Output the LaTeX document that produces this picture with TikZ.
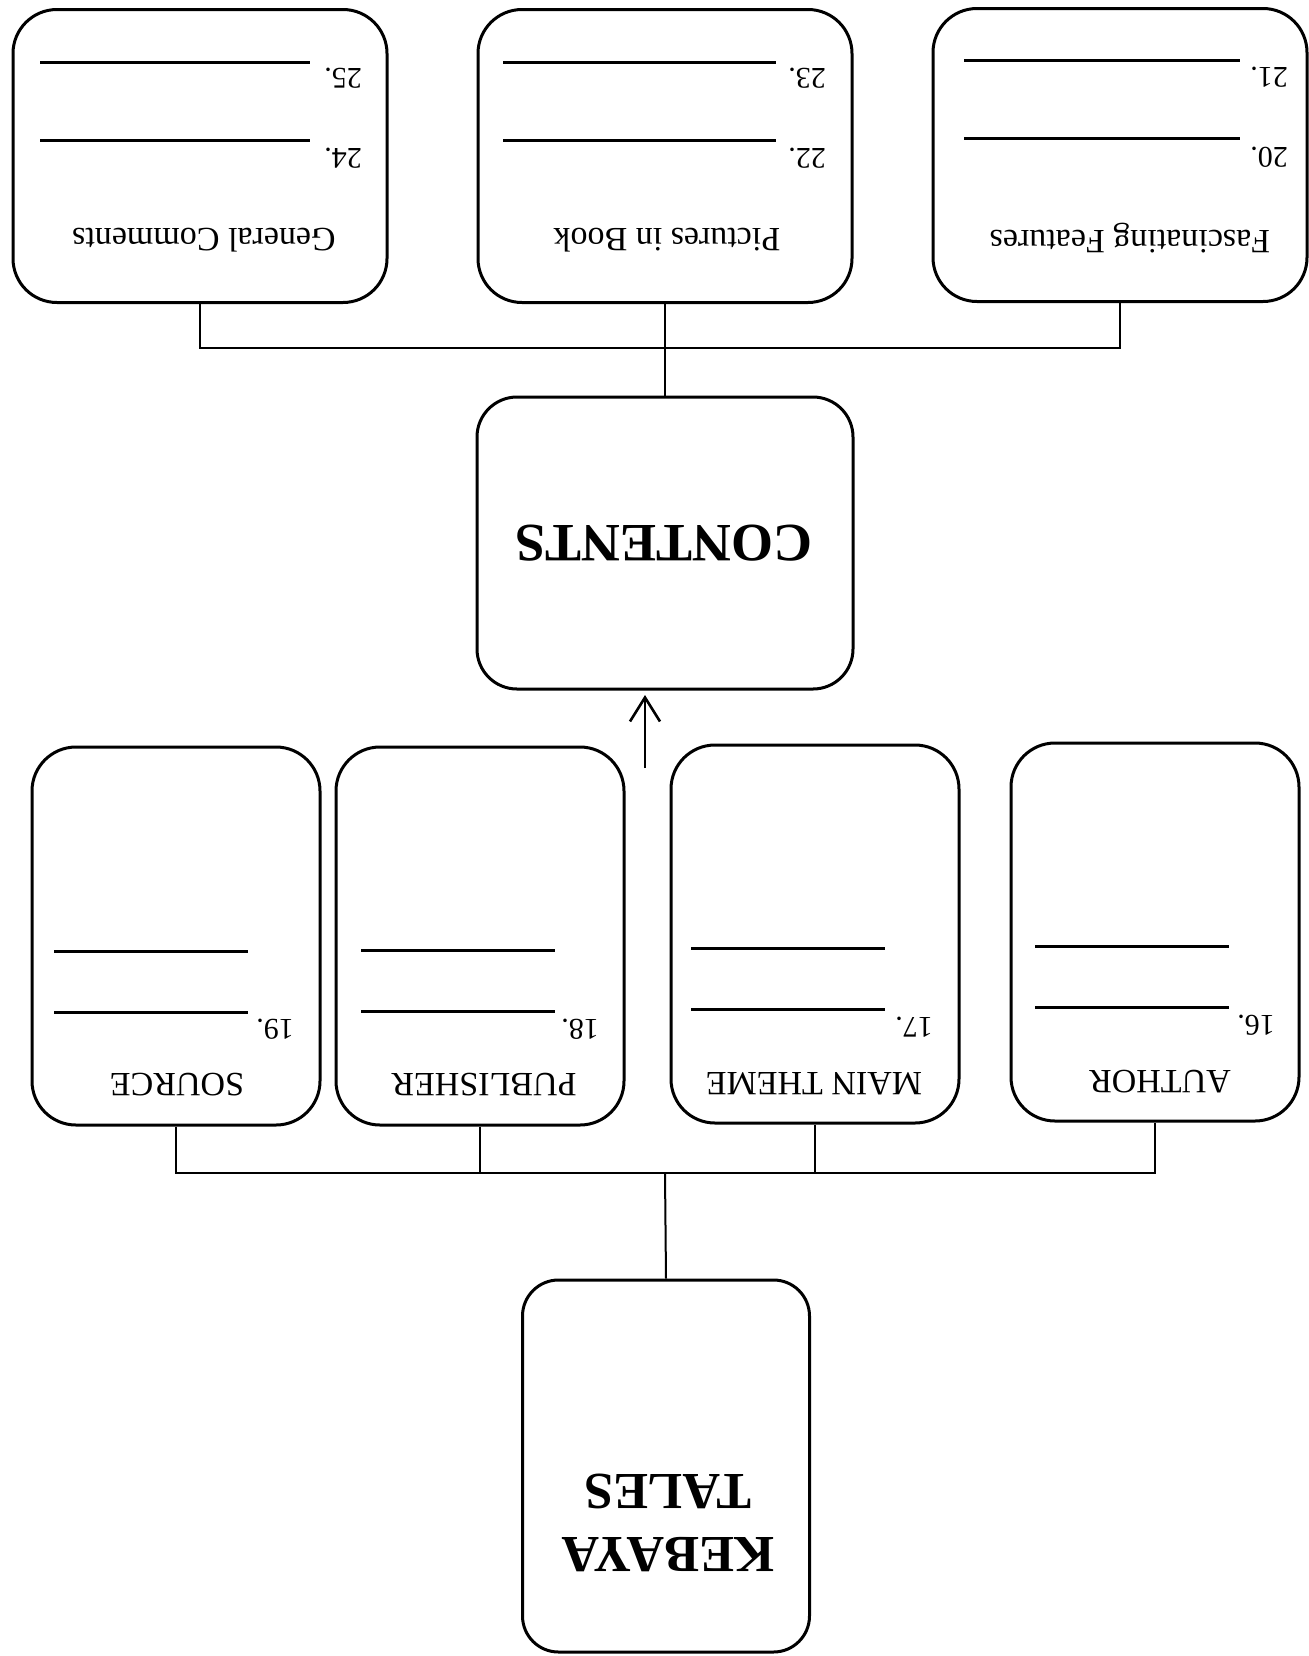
\documentclass[tikz,border=0pt]{standalone}
\usepackage{fontspec}
\setmainfont{Liberation Serif}
\usetikzlibrary{arrows.meta}

\begin{document}
\begin{tikzpicture}[x=0.5pt,y=-0.5pt,>={Straight Barb[length=12pt,width=15pt]},
    topbox/.style={draw, line width=1.5pt, rounded corners=22pt, minimum width=187pt, minimum height=146.5pt},
    midbox/.style={draw, line width=1.5pt, rounded corners=22pt, minimum width=144pt, minimum height=189pt},
    mainbox/.style={draw, line width=1.5pt, rounded corners=20pt, inner sep=0pt},
    lbl/.style={rotate=180, inner sep=0pt, font=\fontsize{17}{20}\selectfont},
    num/.style={rotate=180, inner sep=0pt, font=\fontsize{15}{18}\selectfont},
    big/.style={rotate=180, inner sep=0pt, align=center, font=\bfseries\fontsize{27}{31.5}\selectfont},
    blank/.style={line width=1.5pt}]

            \useasboundingbox (0,0) rectangle (1309,1656);

            % top row
            \node[topbox] (gen) at (200,156) {};
            \node[topbox] (pic) at (665,156) {};
            \node[topbox] (fas) at (1120,155) {};

            \node[lbl] (genl) at (204,240) {General Comments};
            \node[lbl] (picl) at (667,240) {Pictures in Book};
            \node[lbl] (fasl) at (1130,238) {Fascinating Features};

            \node[num] (n25) at (343,78) {25.};
            \node[num] (n24) at (343,158) {24.};
            \node[num] (n23) at (807,78) {23.};
            \node[num] (n22) at (807,158) {22.};
            \node[num] (n21) at (1269,77) {21.};
            \node[num] (n20) at (1269,157) {20.};

            \draw[blank] (40,62) -- (310,62);
            \draw[blank] (40,140) -- (310,140);
            \draw[blank] (503,62) -- (776,62);
            \draw[blank] (503,140) -- (776,140);
            \draw[blank] (964,60) -- (1240,60);
            \draw[blank] (964,138) -- (1240,138);

            % contents
            \node[mainbox, minimum width=188pt, minimum height=146pt] (contents) at (665,543) {};
            \node[big] (contl) at (664,543) {CONTENTS};

            % middle row
            \node[midbox] (src) at (176,936) {};
            \node[midbox] (pub) at (480,936) {};
            \node[midbox] (thm) at (815,934) {};
            \node[midbox] (aut) at (1155,932) {};

            \node[lbl] (srcl) at (177,1085) {SOURCE};
            \node[lbl] (publ) at (484,1085) {PUBLISHER};
            \node[lbl] (thml) at (814,1084) {MAIN THEME};
            \node[lbl] (autl) at (1160,1082) {AUTHOR};

            \node[num] (n19) at (275,1029) {19.};
            \node[num] (n18) at (580,1029) {18.};
            \node[num] (n17) at (914,1027) {17.};
            \node[num] (n16) at (1256,1025) {16.};

            \draw[blank] (54,951) -- (248,951);
            \draw[blank] (54,1012) -- (248,1012);
            \draw[blank] (361,950) -- (555,950);
            \draw[blank] (361,1011) -- (555,1011);
            \draw[blank] (691,948) -- (885,948);
            \draw[blank] (691,1009) -- (885,1009);
            \draw[blank] (1035,946) -- (1229,946);
            \draw[blank] (1035,1007) -- (1229,1007);

            % kebaya tales
            \node[mainbox, minimum width=143.5pt, minimum height=186pt, rounded corners=18pt] (kebaya) at (666,1466) {};
            \node[big, font=\bfseries\fontsize{26}{31.5}\selectfont] (kebl) at (668,1523) {KEBAYA\\TALES};

            % connectors
            \coordinate (bustop) at (664,348);
            \coordinate (busmid) at (665,1173);
            \coordinate (atail) at (645,768);
            \coordinate (ahead) at (645,695);

            \draw[-, line width=1pt] (gen.south) |- (bustop) -| (fas.south);
            \draw[-, line width=1pt] (pic.south) to (contents.north);
            \draw[->, line width=1.3pt] (atail) to (ahead);

            \draw[-, line width=1pt] (src.south) |- (busmid) -| (aut.south);
            \draw[-, line width=1pt] (pub.south) to (pub.south |- busmid);
            \draw[-, line width=1pt] (thm.south) to (thm.south |- busmid);
            \draw[-, line width=1pt] (kebaya.north) to (busmid);

            ;
        \end{tikzpicture}
\end{document}
